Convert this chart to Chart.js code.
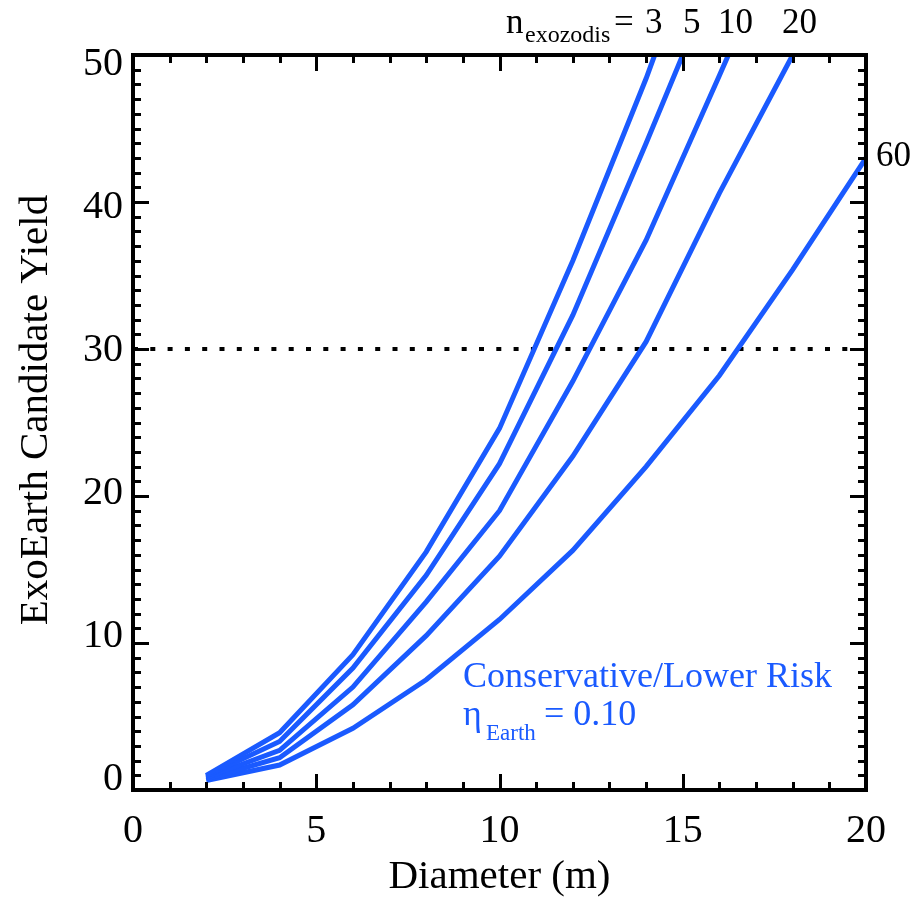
<!DOCTYPE html>
<html>
<head>
<meta charset="utf-8">
<script src="https://cdn.jsdelivr.net/npm/chart.js@4/dist/chart.umd.min.js"></script>
<style>
  html, body { margin: 0; padding: 0; background: #fff; }
  canvas { display: block; }
</style>
</head>
<body>
<canvas id="yieldChart" width="922" height="898"></canvas>
<script>
// telescope diameter (m)
const diameters = [2, 4, 6, 8, 10, 12, 14, 16, 18, 20];

// exoEarth candidate yield for each exozodi level
const yieldN3 = [1.0, 3.9, 9.2, 16.2, 24.6, 36.0, 48.4, 62.0];
const yieldN5 = [0.95, 3.3, 8.3, 14.6, 22.2, 32.3, 44.0, 56.0];
const yieldN10 = [0.85, 2.7, 7.0, 12.8, 19.0, 27.8, 37.4, 48.6, 60.0];
const yieldN20 = [0.75, 2.2, 5.8, 10.5, 15.9, 22.7, 30.5, 40.6, 50.0, 60.0];
const yieldN60 = [0.65, 1.7, 4.2, 7.5, 11.6, 16.3, 22.0, 28.2, 35.4, 43.0];

const exozodiLevels = ['3', '5', '10', '20', '60'];
const yieldTarget = 30;

const xTicks = [0, 5, 10, 15, 20];
const yTicks = [0, 10, 20, 30, 40, 50];

const BLUE = '#1a5aff';
const SERIF = "'Liberation Serif', 'Times New Roman', serif";

const toPoints = ys => ys.map((y, i) => ({ x: diameters[i], y }));

const curves = [yieldN3, yieldN5, yieldN10, yieldN20, yieldN60].map((ys, i) => ({
  label: 'n = ' + exozodiLevels[i],
  data: toPoints(ys),
  borderColor: BLUE,
  borderWidth: 5,
  pointRadius: 0,
  showLine: true,
  clip: 0
}));

const targetLine = {
  label: 'target',
  data: [{ x: 0, y: yieldTarget }, { x: 19.6, y: yieldTarget }],
  borderColor: '#000',
  borderWidth: 4,
  borderDash: [5, 12.3],
  pointRadius: 0,
  showLine: true
};

// IDL-style frame with inward ticks on all four sides, plus the text
const framePlugin = {
  id: 'frame',
  afterDatasetsDraw(chart) {
    const { ctx, chartArea: a, scales: { x, y } } = chart;
    ctx.save();
    ctx.strokeStyle = '#000';
    ctx.lineWidth = 3;
    for (let v = 0; v <= 20; v++) {
      const px = Math.round(x.getPixelForValue(v)) + 0.5;
      const len = v % 5 === 0 ? 16 : 8;
      ctx.beginPath();
      ctx.moveTo(px, a.bottom); ctx.lineTo(px, a.bottom - len);
      ctx.moveTo(px, a.top); ctx.lineTo(px, a.top + len);
      ctx.stroke();
    }
    for (let v = 0; v <= 50; v++) {
      const py = Math.round(y.getPixelForValue(v)) + 0.5;
      const len = v % 10 === 0 ? 16 : 8;
      ctx.beginPath();
      ctx.moveTo(a.left, py); ctx.lineTo(a.left + len, py);
      ctx.moveTo(a.right, py); ctx.lineTo(a.right - len, py);
      ctx.stroke();
    }
    ctx.lineWidth = 4;
    ctx.strokeRect(a.left, a.top, a.right - a.left, a.bottom - a.top);
    ctx.restore();
  },
  afterDraw(chart) {
    const { ctx, chartArea: a, scales: { x, y } } = chart;
    ctx.save();
    ctx.fillStyle = '#000';

    // tick labels
    ctx.font = '40px ' + SERIF;
    ctx.textAlign = 'center';
    ctx.textBaseline = 'alphabetic';
    xTicks.forEach(v => ctx.fillText(String(v), x.getPixelForValue(v), 842));
    ctx.textAlign = 'right';
    ctx.textBaseline = 'middle';
    yTicks.forEach(v => ctx.fillText(String(v), a.left - 10, y.getPixelForValue(v) - 11 + 0.4 * v));

    // axis titles
    ctx.textAlign = 'center';
    ctx.textBaseline = 'alphabetic';
    ctx.font = '41px ' + SERIF;
    ctx.fillText('Diameter (m)', (a.left + a.right) / 2, 888);
    ctx.save();
    ctx.translate(47, 410);
    ctx.rotate(-Math.PI / 2);
    ctx.fillText('ExoEarth Candidate Yield', 0, 0);
    ctx.restore();

    // exozodi levels along the top and at the right
    ctx.textAlign = 'left';
    ctx.font = '35px ' + SERIF;
    ctx.fillText('n', 506, 33);
    ctx.font = '24px ' + SERIF;
    ctx.fillText('exozodis', 525, 42);
    ctx.font = '35px ' + SERIF;
    ctx.fillText('=', 614, 33);
    const topX = [645, 683, 718, 782];
    exozodiLevels.slice(0, 4).forEach((t, i) => ctx.fillText(t, topX[i], 33));
    ctx.fillText(exozodiLevels[4], 876, 166);

    // scenario note
    ctx.fillStyle = BLUE;
    ctx.font = '36px ' + SERIF;
    ctx.fillText('Conservative/Lower Risk', 463, 687);
    ctx.fillText('\u03b7', 463, 725);
    ctx.font = '23px ' + SERIF;
    ctx.fillText('Earth', 486, 740);
    ctx.font = '36px ' + SERIF;
    ctx.fillText('= 0.10', 544, 725);
    ctx.restore();
  }
};

new Chart(document.getElementById('yieldChart'), {
  type: 'scatter',
  data: { datasets: [...curves, targetLine] },
  options: {
    responsive: false,
    animation: false,
    devicePixelRatio: 1,
    layout: { padding: { left: 133, right: 56, top: 55, bottom: 108 } },
    scales: {
      x: { type: 'linear', min: 0, max: 20, display: false },
      y: { type: 'linear', min: 0, max: 50, display: false }
    },
    plugins: {
      legend: { display: false },
      tooltip: { enabled: false }
    }
  },
  plugins: [framePlugin]
});
</script>
</body>
</html>
